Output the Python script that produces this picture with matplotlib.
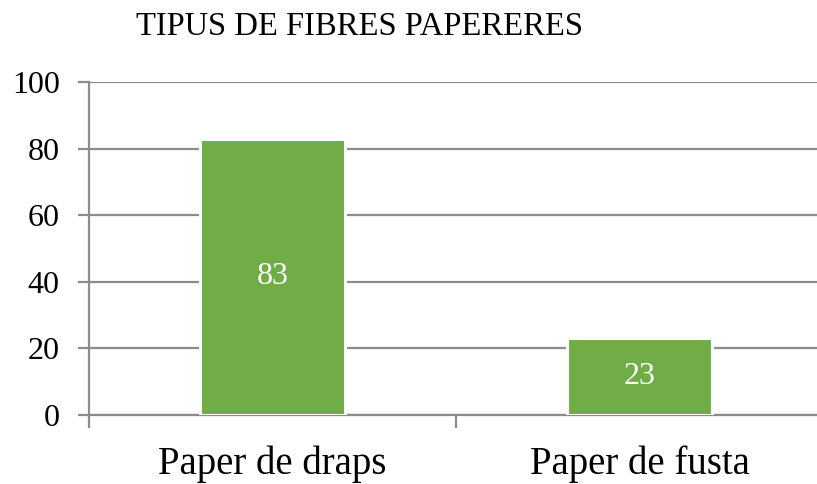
import matplotlib.pyplot as plt
import numpy as np

categories = ["Paper de draps", "Paper de fusta"]
values = [83, 23]
yticks = [0, 20, 40, 60, 80, 100]
title = "TIPUS DE FIBRES PAPERERES"

plt.rcParams['font.family'] = ['Liberation Serif', 'DejaVu Serif']

fig = plt.figure(figsize=(8.17, 4.84), dpi=100)
W, H = 817, 484
x0, x1 = 89, 823
y0, y1 = 415, 82
ax = fig.add_axes([x0 / W, 1 - y0 / H, (x1 - x0) / W, (y0 - y1) / H])

grid_color = '#8c8c8c'
bar_color = '#70AD47'

x = np.arange(len(categories))
bars = ax.bar(x, values, width=0.395, color=bar_color, edgecolor='white',
              linewidth=2.2, zorder=3)

for rect, v in zip(bars, values):
    ax.text(rect.get_x() + rect.get_width() / 2, v / 2, str(v),
            ha='center', va='center', color='white', fontsize=23, zorder=4)

ax.set_xlim(-0.5, len(categories) - 0.5)
ax.set_ylim(0, 100)
ax.set_yticks(yticks)
ax.set_yticklabels([str(t) for t in yticks], fontsize=23)
ax.yaxis.grid(True, color=grid_color, linewidth=1.6, zorder=0)
ax.set_axisbelow(True)

# category boundary ticks on the x axis, labels centred under each bar
ax.set_xticks(np.arange(-0.5, len(categories) + 0.5, 1.0))
ax.set_xticklabels([])
ax.set_xticks(x, minor=True)
ax.set_xticklabels(categories, minor=True, fontsize=28)
ax.tick_params(axis='x', which='major', length=9, width=1.6, color=grid_color)
ax.tick_params(axis='x', which='minor', length=0, pad=22)
ax.tick_params(axis='y', length=8, width=1.6, color=grid_color, pad=13)

for s in ['top', 'right']:
    ax.spines[s].set_visible(False)
for s in ['left', 'bottom']:
    ax.spines[s].set_color(grid_color)
    ax.spines[s].set_linewidth(1.6)

fig.text(360 / W, 1 - 27 / H, title, ha='center', va='center', fontsize=23.5)

fig.savefig('out.png', dpi=100, facecolor='white')
